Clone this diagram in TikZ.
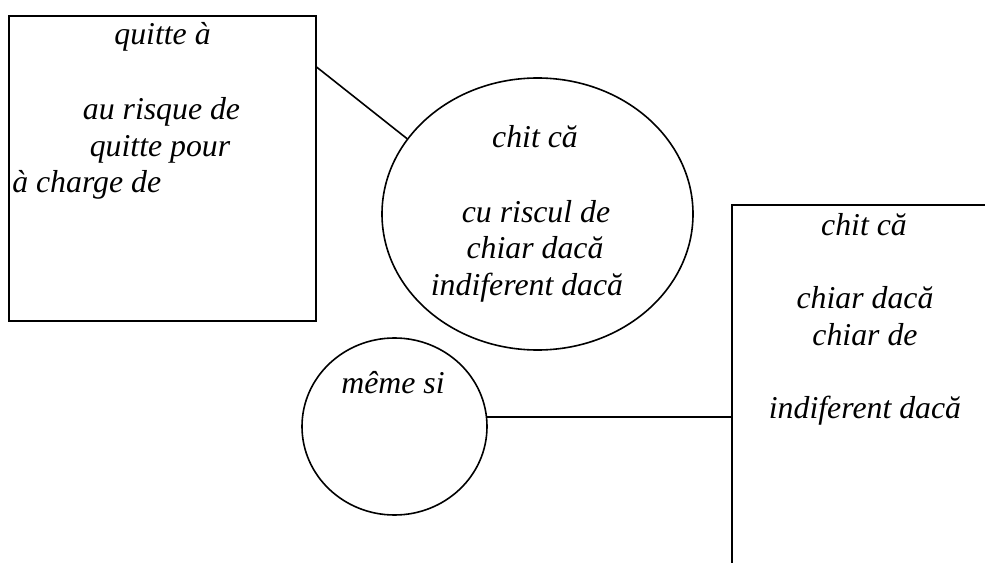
\documentclass[tikz,border=0pt]{standalone}
\usepackage{fontspec}
\setmainfont{Liberation Serif}
\usetikzlibrary{shapes.geometric,calc}
\tikzset{
  shapebox/.style={draw, line width=1.2pt, inner sep=0pt, rectangle},
  shapeell/.style={draw, line width=1.2pt, inner sep=0pt, ellipse},
  lbl/.style={anchor=base, inner sep=0pt, font=\fontsize{23.85}{27.5}\selectfont\itshape},
  conn/.style={line width=1.2pt}
}
\begin{document}
\begin{tikzpicture}[x=0.75pt,y=-0.75pt]
\useasboundingbox (0,0) rectangle (985,563);
\clip (0,0) rectangle (985,563);
% shapes
\node[shapebox, minimum width=307*0.75pt, minimum height=305*0.75pt] (lbox) at (162.5,168.5) {};
\node[shapeell, minimum width=311*0.75pt, minimum height=272*0.75pt] (ell) at (537.5,214) {};
\node[shapebox, minimum width=266*0.75pt, minimum height=395*0.75pt] (rbox) at (865,402.5) {};
\node[shapeell, minimum width=185*0.75pt, minimum height=177*0.75pt] (sc) at (394.5,426.5) {};
% connectors
\draw[conn] ($(lbox.north east)+(0,52)$) -- (ell.150);
\draw[conn] (sc.6) -- (sc.6 -| rbox.west);
% left box text
\node[lbl] (l1) at (162.5,45) {quitte à};
\node[lbl] (l2) at (161.5,120) {au risque de};
\node[lbl] (l3) at (160,157) {quitte pour};
\node[lbl, anchor=base west] (l4) at (12,193) {à charge de};
% ellipse text
\node[lbl] (e1) at (535,148) {chit că};
\node[lbl] (e2) at (536,222) {cu riscul de};
\node[lbl] (e3) at (535,258) {chiar dacă};
\node[lbl] (e4) at (527,295) {indiferent dacă};
% right box text
\node[lbl] (r1) at (864,235) {chit că};
\node[lbl] (r2) at (865,308.5) {chiar dacă};
\node[lbl] (r3) at (865,345) {chiar de};
\node[lbl] (r4) at (865,418.5) {indiferent dacă};
% small circle text
\node[lbl] (s1) at (393,393) {même si};
\end{tikzpicture}
\end{document}
